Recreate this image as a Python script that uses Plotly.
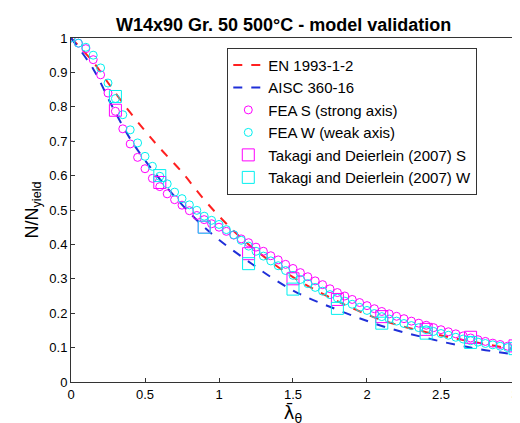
import numpy as np
import plotly.graph_objects as go

# FEA results, slenderness step 0.05
fea_x = [round(0.05 * i, 2) for i in range(61)]
fea_s = [1.0, 0.985, 0.969, 0.937, 0.893, 0.840, 0.787, 0.736, 0.692, 0.653,
         0.620, 0.592, 0.568, 0.547, 0.530, 0.514, 0.498, 0.484, 0.472, 0.460,
         0.450, 0.438, 0.427, 0.416, 0.405, 0.392, 0.380, 0.367, 0.355, 0.342,
         0.330, 0.318, 0.306, 0.294, 0.283, 0.271, 0.260, 0.250, 0.240, 0.231,
         0.222, 0.213, 0.205, 0.198, 0.191, 0.184, 0.177, 0.171, 0.165, 0.158,
         0.152, 0.146, 0.140, 0.134, 0.128, 0.123, 0.118, 0.113, 0.109, 0.104, 0.100]
fea_w = [1.0, 0.985, 0.973, 0.950, 0.913, 0.869, 0.824, 0.777, 0.733, 0.695,
         0.656, 0.627, 0.598, 0.576, 0.552, 0.533, 0.515, 0.499, 0.482, 0.470,
         0.458, 0.443, 0.428, 0.412, 0.395, 0.380, 0.366, 0.352, 0.338, 0.324,
         0.310, 0.298, 0.286, 0.275, 0.264, 0.254, 0.244, 0.235, 0.226, 0.217,
         0.208, 0.199, 0.190, 0.183, 0.177, 0.170, 0.164, 0.158, 0.152, 0.147,
         0.141, 0.136, 0.130, 0.125, 0.120, 0.116, 0.112, 0.108, 0.104, 0.100, 0.097]

# Takagi and Deierlein (2007)
td_x = [0.3, 0.6, 0.9, 1.2, 1.5, 1.8, 2.1, 2.4, 2.7, 3.0]
td_s = [0.79, 0.58, 0.45, 0.373, 0.30, 0.24, 0.19, 0.153, 0.13, 0.105]
td_w = [0.83, 0.60, 0.45, 0.344, 0.27, 0.214, 0.171, 0.142, 0.115, 0.097]

# design curves
en_x = [0, 0.15, 0.25, 0.37, 0.5, 0.6, 0.75, 0.9, 1.05, 1.2, 1.5, 1.8, 2.1, 2.4, 2.7, 3.0]
en_y = [1, 0.93, 0.87, 0.80, 0.73, 0.68, 0.61, 0.53, 0.46, 0.40, 0.305, 0.235, 0.18, 0.145, 0.118, 0.095]
aisc_x = [0, 0.15, 0.28, 0.41, 0.6, 0.9, 1.2, 1.5, 1.8, 2.1, 2.4, 2.7, 3.0]
aisc_y = [1, 0.91, 0.80, 0.70, 0.59, 0.45, 0.35, 0.266, 0.21, 0.163, 0.128, 0.10, 0.08]

x_ticks = [0, 0.5, 1, 1.5, 2, 2.5, 3]

fig = go.Figure()
fig.add_trace(go.Scatter(x=en_x, y=en_y, mode='lines', name='EN 1993-1-2',
                         line=dict(color='#ff2020', dash='dash', width=2, shape='spline')))
fig.add_trace(go.Scatter(x=aisc_x, y=aisc_y, mode='lines', name='AISC 360-16',
                         line=dict(color='#1f2fd8', dash='dash', width=2, shape='spline')))
fig.add_trace(go.Scatter(x=fea_x, y=fea_s, mode='markers', name='FEA S (strong axis)',
                         marker=dict(symbol='circle-open', size=8, color='#ff00ff', line=dict(width=1))))
fig.add_trace(go.Scatter(x=fea_x, y=fea_w, mode='markers', name='FEA W (weak axis)',
                         marker=dict(symbol='circle-open', size=8, color='#00f0f0', line=dict(width=1))))
fig.add_trace(go.Scatter(x=td_x, y=td_s, mode='markers', name='Takagi and Deierlein (2007) S',
                         marker=dict(symbol='square-open', size=12, color='#ff00ff', line=dict(width=1))))
fig.add_trace(go.Scatter(x=td_x, y=td_w, mode='markers', name='Takagi and Deierlein (2007) W',
                         marker=dict(symbol='square-open', size=12, color='#00f0f0', line=dict(width=1))))

axis_common = dict(showgrid=False, zeroline=False, showline=True, linecolor='#333',
                   mirror=True, ticks='inside', ticklen=4, tickcolor='#333',
                   tickfont=dict(size=13, color='black'))

fig.update_layout(
    width=520, height=423,
    margin=dict(l=63, r=9, t=30, b=49),
    paper_bgcolor='white', plot_bgcolor='white',
    font=dict(family='Liberation Sans, Arial', color='black'),
    title=dict(text='<b>W14x90 Gr. 50 500°C - model validation</b>', x=0.53, y=0.975,
               xanchor='center', yanchor='top', font=dict(size=18)),
    xaxis=dict(range=[0, 3.0001], tickvals=x_ticks, ticktext=[f'{v:g}' for v in x_ticks],
               title=dict(text='λ̄<sub>θ</sub>', font=dict(size=18, family='DejaVu Sans'), standoff=2),
               **axis_common),
    yaxis=dict(range=[0, 1], dtick=0.1, tickformat='~g',
               title=dict(text='N/N<sub>yield</sub>', font=dict(size=18), standoff=6), **axis_common),
    legend=dict(x=0.352, y=0.972, xanchor='left', yanchor='top', bgcolor='white',
                bordercolor='#333', borderwidth=1, font=dict(size=15), tracegroupgap=0),
)

fig.write_html("out.html")
